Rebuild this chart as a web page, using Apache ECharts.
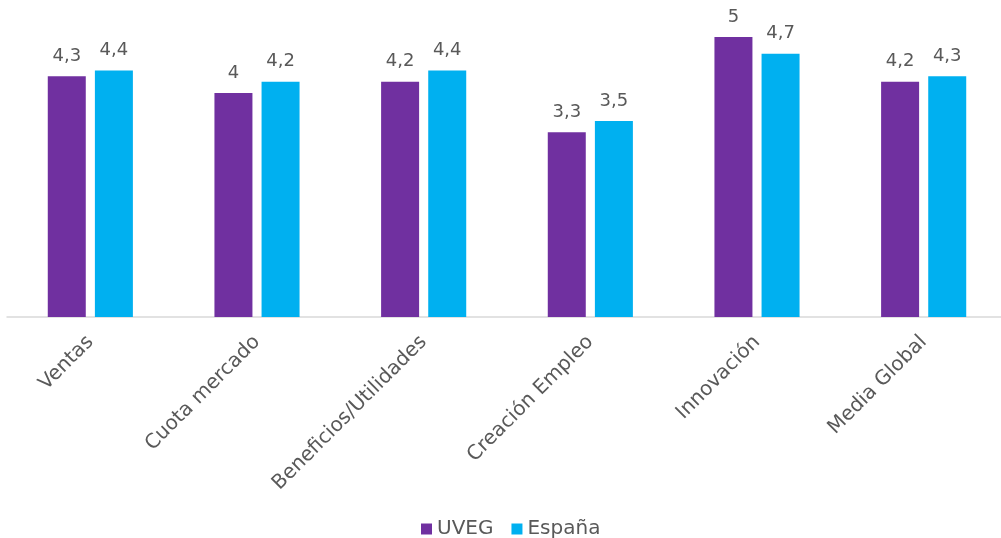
<!DOCTYPE html>
<html>
<head>
<meta charset="utf-8">
<title>UVEG vs España</title>
<script src="https://cdn.jsdelivr.net/npm/echarts@6/dist/echarts.min.js"></script>
<style>
  html, body { margin: 0; padding: 0; background: #ffffff; }
  #chart { width: 1001px; height: 538px; }
</style>
</head>
<body>
<div id="chart"></div>
<script>
// Categories and values per series
var categories = ['Ventas', 'Cuota mercado', 'Beneficios/Utilidades', 'Creación Empleo', 'Innovación', 'Media Global'];
var uvegValues = [4.3, 4.0, 4.2, 3.3, 5.0, 4.2];
var espanaValues = [4.4, 4.2, 4.4, 3.5, 4.7, 4.3];
var seriesNames = ['UVEG', 'España'];

var FONT = 'DejaVu Sans';
var TEXT_COLOR = '#595959';

function fmt(v) {
  return String(v).replace('.', ',');
}

var chart = echarts.init(document.getElementById('chart'), null, { renderer: 'canvas' });

chart.setOption({
  animation: false,
  backgroundColor: '#ffffff',
  textStyle: { fontFamily: FONT },
  grid: {
    left: 7, right: -6, top: 37, height: 280,
    outerBoundsMode: 'none',
    containLabel: false
  },
  legend: {
    data: seriesNames,
    top: 514,
    left: 416,
    icon: 'rect',
    itemWidth: 11,
    itemHeight: 11,
    itemGap: 18,
    textStyle: { color: TEXT_COLOR, fontSize: 20, fontFamily: FONT }
  },
  xAxis: {
    type: 'category',
    data: categories,
    axisLine: { show: true, lineStyle: { color: '#d9d9d9', width: 1.5 } },
    axisTick: { show: false },
    axisLabel: {
      rotate: 45,
      interval: 0,
      margin: 22,
      color: TEXT_COLOR,
      fontSize: 20,
      fontFamily: FONT
    }
  },
  yAxis: {
    type: 'value',
    min: 0,
    max: 5,
    show: false,
    splitLine: { show: false }
  },
  series: [
    {
      name: seriesNames[0],
      type: 'bar',
      data: uvegValues,
      barWidth: '22.8%',
      barGap: '24%',
      itemStyle: { color: '#7030a0' },
      label: {
        show: true,
        position: 'top',
        distance: 11,
        color: TEXT_COLOR,
        fontSize: 18,
        fontFamily: FONT,
        formatter: function (p) { return fmt(p.value); }
      }
    },
    {
      name: seriesNames[1],
      type: 'bar',
      data: espanaValues,
      barWidth: '22.8%',
      itemStyle: { color: '#00b0f0' },
      label: {
        show: true,
        position: 'top',
        distance: 11,
        color: TEXT_COLOR,
        fontSize: 18,
        fontFamily: FONT,
        formatter: function (p) { return fmt(p.value); }
      }
    }
  ]
});
</script>
</body>
</html>
